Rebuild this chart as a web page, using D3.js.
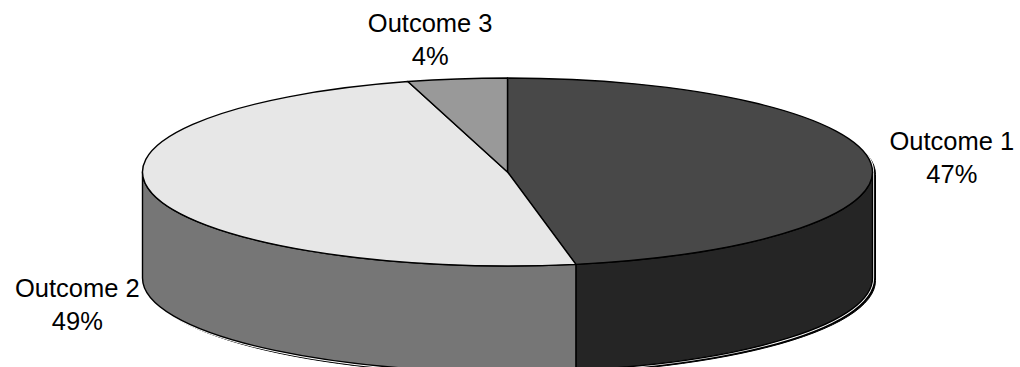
<!DOCTYPE html>
<html>
<head>
<meta charset="utf-8">
<script src="https://cdn.jsdelivr.net/npm/d3@7/dist/d3.min.js"></script>
<style>
  html, body { margin: 0; padding: 0; background: #ffffff; }
  svg { display: block; }
</style>
</head>
<body>
<svg id="chart" width="1020" height="367"></svg>
<script>
// ---- data ----
const categories = ["Outcome 1", "Outcome 2", "Outcome 3"];
const values = [47.0, 48.6, 4.4];
const topColors = ["#484848", "#e7e7e7", "#999999"];
const sideColors = ["#252525", "#767676", "#5a5a5a"];

// ---- layout ----
const W = 1020, H = 367;
const cx = 507.5, cy = 172, rx = 365, ry = 94, depth = 106;
// label offsets from the slice mid-angle point on the rim (layout only)
const labelOffsets = [[81, -13], [-75, 103], [-27, -47]];
const lineGap = 33;

const svg = d3.select("#chart");
const pie = d3.pie().sort(null).value(d => d)(values);

const P = (a, dy = 0) => [cx + rx * Math.sin(a), cy - ry * Math.cos(a) + dy];

function topPath(s, e) {
  const p0 = P(s), p1 = P(e);
  const large = (e - s) > Math.PI ? 1 : 0;
  return `M${cx},${cy}L${p0[0]},${p0[1]}A${rx},${ry} 0 ${large} 1 ${p1[0]},${p1[1]}Z`;
}
function sidePath(s, e) {
  const a = Math.max(s, Math.PI / 2), b = Math.min(e, 3 * Math.PI / 2);
  if (b <= a) return null;
  const p0 = P(a), p1 = P(b), q1 = P(b, depth), q0 = P(a, depth);
  return `M${p0[0]},${p0[1]}A${rx},${ry} 0 0 1 ${p1[0]},${p1[1]}` +
         `L${q1[0]},${q1[1]}A${rx},${ry} 0 0 0 ${q0[0]},${q0[1]}Z`;
}
const silhouette =
  `M${cx - rx},${cy}A${rx},${ry} 0 0 1 ${cx + rx},${cy}` +
  `L${cx + rx},${cy + depth}A${rx},${ry} 0 0 1 ${cx - rx},${cy + depth}Z`;

// shadow
svg.append("path").attr("d", silhouette)
  .attr("transform", "translate(3,2.5)")
  .attr("fill", "#000").attr("stroke", "#000").attr("stroke-width", 1);
svg.append("path").attr("d", silhouette)
  .attr("fill", "none").attr("stroke", "#fff").attr("stroke-width", 3.2);

const g = svg.append("g");
// sides
pie.forEach((d, i) => {
  const p = sidePath(d.startAngle, d.endAngle);
  if (p) g.append("path").attr("d", p)
    .attr("fill", sideColors[i]).attr("stroke", "#000")
    .attr("stroke-width", 1.4).attr("stroke-linejoin", "round");
});
// tops
pie.forEach((d, i) => {
  g.append("path").attr("d", topPath(d.startAngle, d.endAngle))
    .attr("fill", topColors[i]).attr("stroke", "#000")
    .attr("stroke-width", 1.4).attr("stroke-linejoin", "round");
});

// labels
const fmt = v => Math.round(v) + "%";
pie.forEach((d, i) => {
  const m = (d.startAngle + d.endAngle) / 2;
  const a = P(m);
  const x = a[0] + labelOffsets[i][0], y = a[1] + labelOffsets[i][1];
  const t = svg.append("text")
    .attr("text-anchor", "middle")
    .attr("font-family", "'Liberation Sans', Arial, sans-serif")
    .attr("font-size", 25.5)
    .attr("fill", "#000");
  t.append("tspan").attr("x", x).attr("y", y).text(categories[i]);
  t.append("tspan").attr("x", x).attr("y", y + lineGap).text(fmt(d.data));
});
</script>
</body>
</html>
